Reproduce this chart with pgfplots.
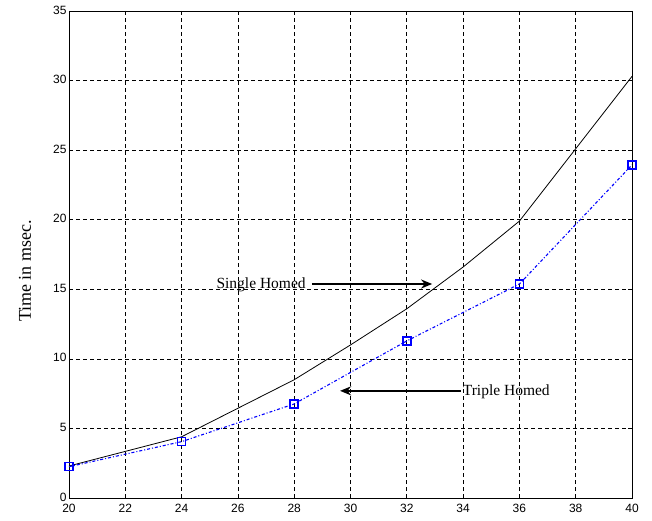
\documentclass[border=0pt]{standalone}
\usepackage{fontspec}
\setmainfont{Liberation Serif}
\newfontfamily\sansfont{Liberation Sans}
\usepackage{pgfplots}
\pgfplotsset{compat=1.18}
\usetikzlibrary{arrows.meta}
\begin{document}
\begin{tikzpicture}
\begin{axis}[
  scale only axis,
  width=563pt, height=487pt,
  xmin=20, xmax=40, ymin=0, ymax=35,
  xtick={20,22,...,40}, ytick={0,5,...,35},
  grid=major,
  major grid style={black, dash pattern=on 4pt off 3pt, line width=0.7pt},
  axis line style={black, line width=0.9pt},
  tick align=inside, major tick length=4pt,
  tick style={black, line width=0.7pt},
  /pgf/number format/assume math mode=true,
  tick label style={font=\sansfont\fontsize{12}{12}\selectfont},
  xticklabel style={yshift=-2.5pt},
  yticklabel style={xshift=1pt, yshift=1pt},
  ylabel={Time in msec.},
  y label style={at={(axis description cs:0,0.466)}, anchor=center, yshift=44pt, font=\fontsize{18}{18}\selectfont},
  clip=false,
]
\addplot[black, line width=0.8pt] coordinates {
  (20,2.3) (22,3.35) (24,4.4) (26,6.45) (28,8.5) (30,11.0) (32,13.6) (34,16.6) (36,19.9) (38,25.1) (40,30.3)
};
\addplot[blue, line width=1.1pt, dash pattern=on 3pt off 2pt on 1pt off 2pt,
  mark=square, mark size=4pt, mark options={solid, line width=1.5pt, fill=white}] coordinates {
  (20,2.25) (24,4.05) (28,6.76) (32,11.29) (36,15.38) (40,23.94)
};
\draw[black, line width=2pt, -{Stealth[length=11pt,width=9pt]}] (axis cs:28.63,15.38) -- (axis cs:32.9,15.38);
\node[anchor=east, inner sep=1pt, font=\fontsize{15.5}{15.5}\selectfont] at (axis cs:28.45,15.3) {Single Homed};
\draw[black, line width=2pt, -{Stealth[length=11pt,width=9pt]}] (axis cs:33.93,7.7) -- (axis cs:29.63,7.7);
\node[anchor=west, inner sep=1pt, font=\fontsize{15.5}{15.5}\selectfont] at (axis cs:33.95,7.62) {Triple Homed};
\coordinate (sw) at (rel axis cs:0,0);
\coordinate (ne) at (rel axis cs:1,1);
\end{axis}
\path ([xshift=-69pt,yshift=-23pt]sw) rectangle ([xshift=20pt,yshift=11pt]ne);
\end{tikzpicture}
\end{document}
